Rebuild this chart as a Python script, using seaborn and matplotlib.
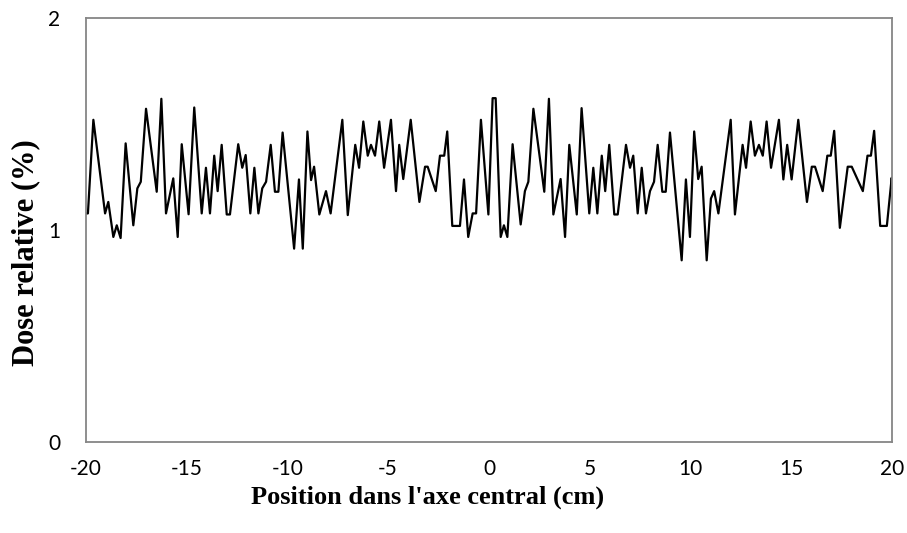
import matplotlib
matplotlib.use("Agg")
import matplotlib.pyplot as plt
import seaborn as sns
import pandas as pd

# Relative dose profile along the central axis
position_cm = [
    -20.0, -19.88, -19.61, -19.03, -18.87, -18.62, -18.45, -18.26, -18.01, -17.63,
    -17.43, -17.26, -17.00, -16.47, -16.24, -16.01, -15.65, -15.43, -15.23, -14.89,
    -14.61, -14.24, -14.03, -13.83, -13.62, -13.45, -13.25, -13.00, -12.84, -12.43,
    -12.23, -12.06, -11.83, -11.63, -11.43, -11.24, -11.05, -10.82, -10.61, -10.44,
    -10.23, -9.66, -9.42, -9.23, -9.00, -8.82, -8.67, -8.41, -8.08, -7.85,
    -7.27, -7.00, -6.63, -6.44, -6.23, -6.01, -5.85, -5.65, -5.44, -5.20,
    -4.86, -4.61, -4.45, -4.25, -3.88, -3.45, -3.17, -3.04, -2.64, -2.43,
    -2.22, -2.07, -1.82, -1.44, -1.24, -1.03, -0.81, -0.64, -0.40, -0.03,
    0.18, 0.33, 0.58, 0.74, 0.91, 1.17, 1.57, 1.78, 1.95, 2.20,
    2.74, 2.97, 3.19, 3.55, 3.77, 3.98, 4.35, 4.59, 4.97, 5.17,
    5.37, 5.59, 5.76, 5.96, 6.21, 6.38, 6.79, 6.99, 7.15, 7.37,
    7.57, 7.78, 7.98, 8.18, 8.36, 8.59, 8.76, 8.97, 9.55, 9.76,
    9.96, 10.17, 10.37, 10.54, 10.79, 11.00, 11.16, 11.37, 11.98, 12.19,
    12.57, 12.74, 12.97, 13.18, 13.38, 13.57, 13.76, 13.98, 14.37, 14.59,
    14.78, 15.00, 15.33, 15.76, 16.00, 16.16, 16.54, 16.77, 16.94, 17.11,
    17.39, 17.78, 17.98, 18.53, 18.76, 18.93, 19.09, 19.39, 19.72, 19.96,
    20.0,
]
dose_relative = [
    1.077, 1.077, 1.518, 1.077, 1.131, 0.966, 1.021, 0.961, 1.407, 1.021,
    1.195, 1.226, 1.570, 1.179, 1.617, 1.077, 1.242, 0.966, 1.403, 1.073,
    1.576, 1.077, 1.292, 1.077, 1.349, 1.182, 1.400, 1.072, 1.072, 1.403,
    1.292, 1.352, 1.077, 1.292, 1.077, 1.195, 1.226, 1.400, 1.179, 1.179,
    1.458, 0.911, 1.237, 0.911, 1.463, 1.234, 1.297, 1.072, 1.182, 1.077,
    1.518, 1.069, 1.400, 1.292, 1.510, 1.349, 1.400, 1.349, 1.510, 1.292,
    1.518, 1.182, 1.400, 1.239, 1.518, 1.131, 1.297, 1.297, 1.182, 1.349,
    1.349, 1.463, 1.018, 1.018, 1.237, 0.966, 1.077, 1.077, 1.518, 1.072,
    1.620, 1.620, 0.966, 1.021, 0.966, 1.403, 1.025, 1.182, 1.226, 1.570,
    1.179, 1.617, 1.072, 1.239, 0.966, 1.400, 1.072, 1.573, 1.077, 1.292,
    1.077, 1.349, 1.182, 1.400, 1.072, 1.072, 1.400, 1.292, 1.349, 1.077,
    1.292, 1.077, 1.182, 1.226, 1.400, 1.179, 1.179, 1.458, 0.856, 1.237,
    0.966, 1.463, 1.239, 1.297, 0.856, 1.147, 1.182, 1.077, 1.518, 1.072,
    1.400, 1.292, 1.510, 1.349, 1.400, 1.349, 1.510, 1.292, 1.518, 1.237,
    1.400, 1.237, 1.518, 1.131, 1.297, 1.297, 1.182, 1.349, 1.349, 1.466,
    1.009, 1.297, 1.297, 1.182, 1.349, 1.349, 1.466, 1.018, 1.018, 1.245,
    1.195,
]
x_ticks = [-20, -15, -10, -5, 0, 5, 10, 15, 20]
y_ticks = [0, 1, 2]
x_title = "Position dans l'axe central (cm)"
y_title = "Dose relative (%)"

sns.set_style("white")
plt.rcParams["font.family"] = ["Lato", "DejaVu Sans"]

df = pd.DataFrame({"position": position_cm, "dose": dose_relative})

fig = plt.figure(figsize=(9.07, 5.33), dpi=100)
ax = fig.add_axes([85.5 / 907, 1 - 442 / 533, (892.5 - 85.5) / 907, (442 - 17.5) / 533])

sns.lineplot(data=df, x="position", y="dose", sort=False, color="black",
             linewidth=1.6, ax=ax)
for ln in ax.get_lines():
    ln.set_solid_joinstyle("round")

ax.set_xlim(-20, 20)
ax.set_ylim(0, 2)
ax.set_xticks(x_ticks)
ax.set_yticks(y_ticks)
ax.set_xticklabels([str(v) for v in x_ticks])
ax.set_yticklabels([str(v) for v in y_ticks])

for side in ["left", "bottom", "top", "right"]:
    ax.spines[side].set_visible(True)
    ax.spines[side].set_color("#868686")
    ax.spines[side].set_linewidth(1.3)

ax.tick_params(axis="both", which="major", direction="out", length=6,
               width=1.3, color="#868686", labelsize=15, labelcolor="black")
ax.tick_params(axis="x", pad=6)
ax.tick_params(axis="y", pad=12)
ax.grid(False)

serif_bold = dict(family=["Liberation Serif", "DejaVu Serif"], weight="bold",
                  color="black")
ax.set_xlabel(x_title, size=19, **serif_bold)
ax.set_ylabel(y_title, size=22, **serif_bold)
ax.xaxis.set_label_coords(0.424, -0.103)
ax.yaxis.set_label_coords(-0.056, 0.445)

fig.savefig("out.png", dpi=100, facecolor="white")
